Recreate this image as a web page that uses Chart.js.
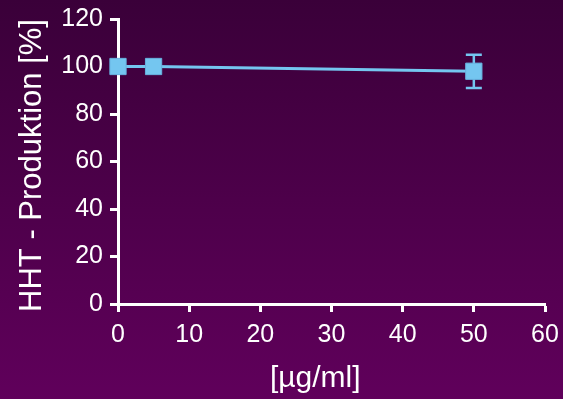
<!DOCTYPE html>
<html>
<head>
<meta charset="utf-8">
<script src="https://cdn.jsdelivr.net/npm/chart.js@4.4.1/dist/chart.umd.min.js"></script>
<style>
  html, body { margin: 0; padding: 0; background: #4a0048; }
  #wrap { width: 563px; height: 399px; }
</style>
</head>
<body>
<div id="wrap"><canvas id="c" width="563" height="399"></canvas></div>
<script>
// Concentration in µg/ml
const concentrations = [0, 5, 50];
// HHT production in % of control
const production = [100, 100, 98];
// Standard deviation (± %)
const productionSD = [0, 0, 7];

const xTitle = '[µg/ml]';
const yTitle = 'HHT - Produktion [%]';

const FONT = '"Liberation Sans", Arial, Helvetica, sans-serif';
const BLUE = '#74c6f0';

const background = {
  id: 'background',
  beforeDraw(chart) {
    const { ctx, width, height } = chart;
    const g = ctx.createLinearGradient(0, 0, 0, height);
    g.addColorStop(0, '#3a0039');
    g.addColorStop(1, '#60005b');
    ctx.save();
    ctx.fillStyle = g;
    ctx.fillRect(0, 0, width, height);
    ctx.restore();
  }
};

// Vertical error bars with caps, drawn below the markers
const errorBars = {
  id: 'errorBars',
  beforeDatasetsDraw(chart) {
    const { ctx, scales: { x, y } } = chart;
    ctx.save();
    ctx.strokeStyle = BLUE;
    ctx.lineWidth = 2.5;
    concentrations.forEach((c, i) => {
      const sd = productionSD[i];
      if (!sd) return;
      const px = x.getPixelForValue(c);
      const top = y.getPixelForValue(production[i] + sd);
      const bot = y.getPixelForValue(production[i] - sd);
      const cap = 8;
      ctx.beginPath();
      ctx.moveTo(px, top); ctx.lineTo(px, bot);
      ctx.moveTo(px - cap, top); ctx.lineTo(px + cap, top);
      ctx.moveTo(px - cap, bot); ctx.lineTo(px + cap, bot);
      ctx.stroke();
    });
    ctx.restore();
  }
};

// Axis titles
const axisTitles = {
  id: 'axisTitles',
  afterDraw(chart) {
    const { ctx, chartArea: a } = chart;
    ctx.save();
    ctx.fillStyle = '#ffffff';
    ctx.textAlign = 'center';
    ctx.textBaseline = 'alphabetic';
    ctx.font = '30px ' + FONT;
    ctx.fillText(xTitle, a.left + (a.right - a.left) * 0.462, 387);
    ctx.font = '31px ' + FONT;
    ctx.translate(41, (a.top + a.bottom) / 2 + 4);
    ctx.rotate(-Math.PI / 2);
    ctx.fillText(yTitle, 0, 0);
    ctx.restore();
  }
};

new Chart(document.getElementById('c'), {
  type: 'line',
  data: {
    datasets: [{
      data: concentrations.map((c, i) => ({ x: c, y: production[i] })),
      borderColor: BLUE,
      borderWidth: 3,
      backgroundColor: BLUE,
      pointStyle: 'rect',
      pointRadius: 11.5,
      pointBorderWidth: 1,
      pointBorderColor: '#68b2e0',
      pointBackgroundColor: BLUE,
      tension: 0,
      clip: false
    }]
  },
  options: {
    responsive: false,
    animation: false,
    events: [],
    layout: { padding: { left: 0, right: 18, top: 19, bottom: 0 } },
    plugins: { legend: { display: false }, tooltip: { enabled: false } },
    scales: {
      x: {
        type: 'linear',
        min: 0, max: 60,
        z: 1,
        afterFit(s) { s.height = 95; s.paddingLeft = 0; s.paddingRight = 0; },
        ticks: { stepSize: 10, color: '#ffffff', padding: 8, font: { family: FONT, size: 25 } },
        grid: { drawOnChartArea: false, color: '#ffffff', tickLength: 8, tickWidth: 3 },
        border: { color: '#ffffff', width: 3 }
      },
      y: {
        type: 'linear',
        min: 0, max: 120,
        z: 1,
        afterFit(s) { s.width = 118; s.paddingTop = 0; s.paddingBottom = 0; },
        ticks: { stepSize: 20, color: '#ffffff', padding: 7, font: { family: FONT, size: 25 } },
        grid: { drawOnChartArea: false, color: '#ffffff', tickLength: 8, tickWidth: 3 },
        border: { color: '#ffffff', width: 3 }
      }
    }
  },
  plugins: [background, errorBars, axisTitles]
});
</script>
</body>
</html>
